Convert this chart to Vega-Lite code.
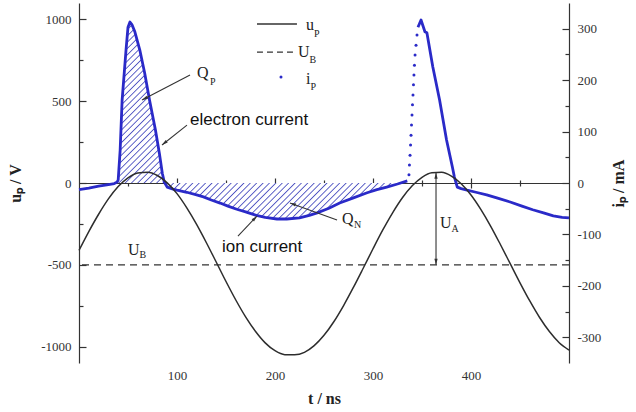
{
"$schema":"https://vega.github.io/schema/vega-lite/v6.json",
"width":490,"height":360,
"autosize":{"type":"none"},
"padding":{"left":79,"top":3,"right":67,"bottom":46},
"background":"#ffffff",
"config":{
 "view":{"stroke":null},
 "axis":{"grid":false,"labelFont":"Liberation Serif","labelFontSize":13,"labelColor":"#333333","titleFont":"Liberation Serif","titleFontSize":16,"titleFontWeight":"bold","titleColor":"#222222","domainColor":"#333333","domainWidth":1.2,"tickColor":"#333333","tickWidth":1.2,"labelOverlap":false,"labelFlush":false}
},
"datasets":{
 "up":[{"t":0,"u":-412},{"t":10,"u":-297},{"t":20,"u":-191},{"t":30,"u":-97},{"t":40,"u":-22},{"t":50,"u":31},{"t":60,"u":61},{"t":70,"u":66},{"t":80,"u":46},{"t":90,"u":1},{"t":100,"u":-65},{"t":110,"u":-152},{"t":120,"u":-253},{"t":130,"u":-365},{"t":140,"u":-483},{"t":150,"u":-602},{"t":160,"u":-715},{"t":170,"u":-818},{"t":180,"u":-906},{"t":190,"u":-977},{"t":200,"u":-1025},{"t":210,"u":-1049},{"t":220,"u":-1050},{"t":230,"u":-1035},{"t":240,"u":-994},{"t":250,"u":-931},{"t":260,"u":-848},{"t":270,"u":-749},{"t":280,"u":-638},{"t":290,"u":-521},{"t":300,"u":-402},{"t":310,"u":-287},{"t":320,"u":-182},{"t":330,"u":-90},{"t":340,"u":-17},{"t":350,"u":35},{"t":360,"u":63},{"t":370,"u":65},{"t":380,"u":42},{"t":390,"u":-5},{"t":400,"u":-73},{"t":410,"u":-161},{"t":420,"u":-263},{"t":430,"u":-376},{"t":440,"u":-493},{"t":450,"u":-610},{"t":460,"u":-721},{"t":470,"u":-822},{"t":480,"u":-908},{"t":490,"u":-976},{"t":500,"u":-1021}],
 "ip":[{"t":0,"i":-13,"seg":1},{"t":10,"i":-10,"seg":1},{"t":20,"i":-6,"seg":1},{"t":30,"i":-3,"seg":1},{"t":36,"i":-1,"seg":1},{"t":39,"i":2,"seg":1},{"t":40,"i":6,"seg":1},{"t":42,"i":64,"seg":1},{"t":44,"i":161,"seg":1},{"t":48,"i":259,"seg":1},{"t":50,"i":303,"seg":1},{"t":52,"i":313,"seg":1},{"t":54,"i":308,"seg":1},{"t":57,"i":294,"seg":1},{"t":62,"i":259,"seg":1},{"t":67,"i":214,"seg":1},{"t":72,"i":161,"seg":1},{"t":78,"i":103,"seg":1},{"t":82,"i":58,"seg":1},{"t":85,"i":19,"seg":1},{"t":87,"i":2,"seg":1},{"t":90,"i":-8,"seg":1},{"t":96,"i":-12,"seg":1},{"t":100,"i":-14,"seg":1},{"t":110,"i":-18,"seg":1},{"t":120,"i":-23,"seg":1},{"t":127,"i":-27,"seg":1},{"t":135,"i":-33,"seg":1},{"t":144,"i":-39,"seg":1},{"t":152,"i":-45,"seg":1},{"t":161,"i":-51,"seg":1},{"t":170,"i":-56,"seg":1},{"t":181,"i":-63,"seg":1},{"t":190,"i":-67,"seg":1},{"t":202,"i":-70,"seg":1},{"t":212,"i":-70,"seg":1},{"t":225,"i":-68,"seg":1},{"t":235,"i":-63,"seg":1},{"t":243,"i":-58,"seg":1},{"t":255,"i":-49,"seg":1},{"t":266,"i":-39,"seg":1},{"t":280,"i":-29,"seg":1},{"t":294,"i":-19,"seg":1},{"t":304,"i":-13,"seg":1},{"t":314,"i":-8,"seg":1},{"t":325,"i":-2,"seg":1},{"t":335,"i":4,"seg":1},
  {"t":345.9,"i":303,"seg":2},{"t":349,"i":317,"seg":2},{"t":353,"i":294,"seg":2},{"t":355,"i":292,"seg":2},{"t":361,"i":226,"seg":2},{"t":368,"i":161,"seg":2},{"t":375,"i":84,"seg":2},{"t":381,"i":31,"seg":2},{"t":383,"i":12,"seg":2},{"t":386,"i":-8,"seg":2},{"t":390,"i":-11,"seg":2},{"t":396,"i":-14,"seg":2},{"t":405,"i":-18,"seg":2},{"t":416,"i":-23,"seg":2},{"t":428,"i":-30,"seg":2},{"t":440,"i":-37,"seg":2},{"t":452,"i":-45,"seg":2},{"t":463,"i":-52,"seg":2},{"t":474,"i":-58,"seg":2},{"t":484,"i":-64,"seg":2},{"t":493,"i":-67,"seg":2},{"t":500,"i":-68,"seg":2}],
 "ipdots":[{"t":336.7,"i":16},{"t":337.2,"i":35},{"t":337.8,"i":54},{"t":338.3,"i":74},{"t":338.8,"i":93},{"t":339.3,"i":113},{"t":339.8,"i":132},{"t":340.3,"i":152},{"t":340.8,"i":171},{"t":341.3,"i":191},{"t":341.8,"i":210},{"t":342.3,"i":229},{"t":342.9,"i":249},{"t":343.9,"i":268},{"t":344.9,"i":288}],
 "arrows":[{"name":"QP","t":113.3,"u":660,"t2":64.3,"u2":507},{"name":"el","t":110.2,"u":354,"t2":84.7,"u2":232},{"name":"ion","t":162.2,"u":-324,"t2":181.6,"u2":-202},{"name":"QN","t":263.3,"u":-226,"t2":215.3,"u2":-122},{"name":"UA","t":364.3,"u":63,"t2":364.3,"u2":-500}],
 "big":[{"label":"Q","t":120.4,"u":642},{"label":"Q","t":268.4,"u":-251},{"label":"U","t":368.4,"u":-275},{"label":"U","t":50,"u":-440},{"label":"u","t":231.6,"u":935},{"label":"U","t":223.5,"u":770},{"label":"i","t":231.6,"u":605}],
 "sub":[{"label":"P","t":133.7,"u":599},{"label":"N","t":280.6,"u":-275},{"label":"A","t":380.2,"u":-299},{"label":"B","t":61.8,"u":-458},{"label":"P","t":239.8,"u":892},{"label":"B","t":235.3,"u":733},{"label":"P","t":236.1,"u":568}],
 "sans":[{"label":"electron current","t":113.3,"u":354},{"label":"ion current","t":145.9,"u":-422}],
 "leg":[{"kind":"solid","t":181.6,"t2":222.4,"u":972},{"kind":"dashed","t":181.6,"t2":220.4,"u":800}],
 "legdot":[{"t":206.1,"u":648}]
},
"resolve":{"scale":{"y":"independent"},"axis":{"x":"independent"}},
"layer":[
 {"resolve":{"axis":{"x":"independent","y":"independent"}},
  "layer":[
  {"data":{"name":"ip"},"transform":[{"filter":"datum.seg === 1 && datum.t >= 39 && datum.t <= 87"}],
   "mark":{"type":"area","opacity":1,"fill":{"gradient":"linear","x1":0,"y1":0,"x2":0.3475,"y2":1.1905,"stops":[
    {"offset":0,"color":"#ffffff"},
    {"offset":0.0182,"color":"#ffffff"},{"offset":0.0242,"color":"#4f54c2"},{"offset":0.0303,"color":"#ffffff"},
    {"offset":0.0485,"color":"#ffffff"},{"offset":0.0545,"color":"#4f54c2"},{"offset":0.0606,"color":"#ffffff"},
    {"offset":0.0788,"color":"#ffffff"},{"offset":0.0848,"color":"#4f54c2"},{"offset":0.0909,"color":"#ffffff"},
    {"offset":0.1091,"color":"#ffffff"},{"offset":0.1152,"color":"#4f54c2"},{"offset":0.1212,"color":"#ffffff"},
    {"offset":0.1394,"color":"#ffffff"},{"offset":0.1455,"color":"#4f54c2"},{"offset":0.1515,"color":"#ffffff"},
    {"offset":0.1697,"color":"#ffffff"},{"offset":0.1758,"color":"#4f54c2"},{"offset":0.1818,"color":"#ffffff"},
    {"offset":0.2000,"color":"#ffffff"},{"offset":0.2061,"color":"#4f54c2"},{"offset":0.2121,"color":"#ffffff"},
    {"offset":0.2303,"color":"#ffffff"},{"offset":0.2364,"color":"#4f54c2"},{"offset":0.2424,"color":"#ffffff"},
    {"offset":0.2606,"color":"#ffffff"},{"offset":0.2667,"color":"#4f54c2"},{"offset":0.2727,"color":"#ffffff"},
    {"offset":0.2909,"color":"#ffffff"},{"offset":0.2970,"color":"#4f54c2"},{"offset":0.3030,"color":"#ffffff"},
    {"offset":0.3212,"color":"#ffffff"},{"offset":0.3273,"color":"#4f54c2"},{"offset":0.3333,"color":"#ffffff"},
    {"offset":0.3515,"color":"#ffffff"},{"offset":0.3576,"color":"#4f54c2"},{"offset":0.3636,"color":"#ffffff"},
    {"offset":0.3818,"color":"#ffffff"},{"offset":0.3879,"color":"#4f54c2"},{"offset":0.3939,"color":"#ffffff"},
    {"offset":0.4121,"color":"#ffffff"},{"offset":0.4182,"color":"#4f54c2"},{"offset":0.4242,"color":"#ffffff"},
    {"offset":0.4424,"color":"#ffffff"},{"offset":0.4485,"color":"#4f54c2"},{"offset":0.4545,"color":"#ffffff"},
    {"offset":0.4727,"color":"#ffffff"},{"offset":0.4788,"color":"#4f54c2"},{"offset":0.4848,"color":"#ffffff"},
    {"offset":0.5030,"color":"#ffffff"},{"offset":0.5091,"color":"#4f54c2"},{"offset":0.5152,"color":"#ffffff"},
    {"offset":0.5333,"color":"#ffffff"},{"offset":0.5394,"color":"#4f54c2"},{"offset":0.5455,"color":"#ffffff"},
    {"offset":0.5636,"color":"#ffffff"},{"offset":0.5697,"color":"#4f54c2"},{"offset":0.5758,"color":"#ffffff"},
    {"offset":0.5939,"color":"#ffffff"},{"offset":0.6000,"color":"#4f54c2"},{"offset":0.6061,"color":"#ffffff"},
    {"offset":0.6242,"color":"#ffffff"},{"offset":0.6303,"color":"#4f54c2"},{"offset":0.6364,"color":"#ffffff"},
    {"offset":0.6545,"color":"#ffffff"},{"offset":0.6606,"color":"#4f54c2"},{"offset":0.6667,"color":"#ffffff"},
    {"offset":0.6848,"color":"#ffffff"},{"offset":0.6909,"color":"#4f54c2"},{"offset":0.6970,"color":"#ffffff"},
    {"offset":0.7152,"color":"#ffffff"},{"offset":0.7212,"color":"#4f54c2"},{"offset":0.7273,"color":"#ffffff"},
    {"offset":0.7455,"color":"#ffffff"},{"offset":0.7515,"color":"#4f54c2"},{"offset":0.7576,"color":"#ffffff"},
    {"offset":0.7758,"color":"#ffffff"},{"offset":0.7818,"color":"#4f54c2"},{"offset":0.7879,"color":"#ffffff"},
    {"offset":0.8061,"color":"#ffffff"},{"offset":0.8121,"color":"#4f54c2"},{"offset":0.8182,"color":"#ffffff"},
    {"offset":0.8364,"color":"#ffffff"},{"offset":0.8424,"color":"#4f54c2"},{"offset":0.8485,"color":"#ffffff"},
    {"offset":0.8667,"color":"#ffffff"},{"offset":0.8727,"color":"#4f54c2"},{"offset":0.8788,"color":"#ffffff"},
    {"offset":0.8970,"color":"#ffffff"},{"offset":0.9030,"color":"#4f54c2"},{"offset":0.9091,"color":"#ffffff"},
    {"offset":0.9273,"color":"#ffffff"},{"offset":0.9333,"color":"#4f54c2"},{"offset":0.9394,"color":"#ffffff"},
    {"offset":0.9576,"color":"#ffffff"},{"offset":0.9636,"color":"#4f54c2"},{"offset":0.9697,"color":"#ffffff"},
    {"offset":0.9879,"color":"#ffffff"},{"offset":0.9939,"color":"#4f54c2"},{"offset":1,"color":"#ffffff"}]}},
   "encoding":{"x":{"field":"t","type":"quantitative","scale":{"domain":[0,500],"nice":false},"axis":null},
    "y":{"field":"i","type":"quantitative","scale":{"domain":[-350,350],"nice":false,"zero":false},"axis":null},
    "y2":{"datum":0}}},
  {"data":{"name":"ip"},"transform":[{"filter":"datum.seg === 1 && datum.t >= 87 && datum.t <= 335"}],
   "mark":{"type":"area","opacity":1,"fill":{"gradient":"linear","x1":0,"y1":0,"x2":1.1288,"y2":0.1765,"stops":[
    {"offset":0,"color":"#ffffff"},
    {"offset":0.0136,"color":"#ffffff"},{"offset":0.0182,"color":"#4f54c2"},{"offset":0.0227,"color":"#ffffff"},
    {"offset":0.0364,"color":"#ffffff"},{"offset":0.0409,"color":"#4f54c2"},{"offset":0.0455,"color":"#ffffff"},
    {"offset":0.0591,"color":"#ffffff"},{"offset":0.0636,"color":"#4f54c2"},{"offset":0.0682,"color":"#ffffff"},
    {"offset":0.0818,"color":"#ffffff"},{"offset":0.0864,"color":"#4f54c2"},{"offset":0.0909,"color":"#ffffff"},
    {"offset":0.1045,"color":"#ffffff"},{"offset":0.1091,"color":"#4f54c2"},{"offset":0.1136,"color":"#ffffff"},
    {"offset":0.1273,"color":"#ffffff"},{"offset":0.1318,"color":"#4f54c2"},{"offset":0.1364,"color":"#ffffff"},
    {"offset":0.1500,"color":"#ffffff"},{"offset":0.1545,"color":"#4f54c2"},{"offset":0.1591,"color":"#ffffff"},
    {"offset":0.1727,"color":"#ffffff"},{"offset":0.1773,"color":"#4f54c2"},{"offset":0.1818,"color":"#ffffff"},
    {"offset":0.1955,"color":"#ffffff"},{"offset":0.2000,"color":"#4f54c2"},{"offset":0.2045,"color":"#ffffff"},
    {"offset":0.2182,"color":"#ffffff"},{"offset":0.2227,"color":"#4f54c2"},{"offset":0.2273,"color":"#ffffff"},
    {"offset":0.2409,"color":"#ffffff"},{"offset":0.2455,"color":"#4f54c2"},{"offset":0.2500,"color":"#ffffff"},
    {"offset":0.2636,"color":"#ffffff"},{"offset":0.2682,"color":"#4f54c2"},{"offset":0.2727,"color":"#ffffff"},
    {"offset":0.2864,"color":"#ffffff"},{"offset":0.2909,"color":"#4f54c2"},{"offset":0.2955,"color":"#ffffff"},
    {"offset":0.3091,"color":"#ffffff"},{"offset":0.3136,"color":"#4f54c2"},{"offset":0.3182,"color":"#ffffff"},
    {"offset":0.3318,"color":"#ffffff"},{"offset":0.3364,"color":"#4f54c2"},{"offset":0.3409,"color":"#ffffff"},
    {"offset":0.3545,"color":"#ffffff"},{"offset":0.3591,"color":"#4f54c2"},{"offset":0.3636,"color":"#ffffff"},
    {"offset":0.3773,"color":"#ffffff"},{"offset":0.3818,"color":"#4f54c2"},{"offset":0.3864,"color":"#ffffff"},
    {"offset":0.4000,"color":"#ffffff"},{"offset":0.4045,"color":"#4f54c2"},{"offset":0.4091,"color":"#ffffff"},
    {"offset":0.4227,"color":"#ffffff"},{"offset":0.4273,"color":"#4f54c2"},{"offset":0.4318,"color":"#ffffff"},
    {"offset":0.4455,"color":"#ffffff"},{"offset":0.4500,"color":"#4f54c2"},{"offset":0.4545,"color":"#ffffff"},
    {"offset":0.4682,"color":"#ffffff"},{"offset":0.4727,"color":"#4f54c2"},{"offset":0.4773,"color":"#ffffff"},
    {"offset":0.4909,"color":"#ffffff"},{"offset":0.4955,"color":"#4f54c2"},{"offset":0.5000,"color":"#ffffff"},
    {"offset":0.5136,"color":"#ffffff"},{"offset":0.5182,"color":"#4f54c2"},{"offset":0.5227,"color":"#ffffff"},
    {"offset":0.5364,"color":"#ffffff"},{"offset":0.5409,"color":"#4f54c2"},{"offset":0.5455,"color":"#ffffff"},
    {"offset":0.5591,"color":"#ffffff"},{"offset":0.5636,"color":"#4f54c2"},{"offset":0.5682,"color":"#ffffff"},
    {"offset":0.5818,"color":"#ffffff"},{"offset":0.5864,"color":"#4f54c2"},{"offset":0.5909,"color":"#ffffff"},
    {"offset":0.6045,"color":"#ffffff"},{"offset":0.6091,"color":"#4f54c2"},{"offset":0.6136,"color":"#ffffff"},
    {"offset":0.6273,"color":"#ffffff"},{"offset":0.6318,"color":"#4f54c2"},{"offset":0.6364,"color":"#ffffff"},
    {"offset":0.6500,"color":"#ffffff"},{"offset":0.6545,"color":"#4f54c2"},{"offset":0.6591,"color":"#ffffff"},
    {"offset":0.6727,"color":"#ffffff"},{"offset":0.6773,"color":"#4f54c2"},{"offset":0.6818,"color":"#ffffff"},
    {"offset":0.6955,"color":"#ffffff"},{"offset":0.7000,"color":"#4f54c2"},{"offset":0.7045,"color":"#ffffff"},
    {"offset":0.7182,"color":"#ffffff"},{"offset":0.7227,"color":"#4f54c2"},{"offset":0.7273,"color":"#ffffff"},
    {"offset":0.7409,"color":"#ffffff"},{"offset":0.7455,"color":"#4f54c2"},{"offset":0.7500,"color":"#ffffff"},
    {"offset":0.7636,"color":"#ffffff"},{"offset":0.7682,"color":"#4f54c2"},{"offset":0.7727,"color":"#ffffff"},
    {"offset":0.7864,"color":"#ffffff"},{"offset":0.7909,"color":"#4f54c2"},{"offset":0.7955,"color":"#ffffff"},
    {"offset":0.8091,"color":"#ffffff"},{"offset":0.8136,"color":"#4f54c2"},{"offset":0.8182,"color":"#ffffff"},
    {"offset":0.8318,"color":"#ffffff"},{"offset":0.8364,"color":"#4f54c2"},{"offset":0.8409,"color":"#ffffff"},
    {"offset":0.8545,"color":"#ffffff"},{"offset":0.8591,"color":"#4f54c2"},{"offset":0.8636,"color":"#ffffff"},
    {"offset":0.8773,"color":"#ffffff"},{"offset":0.8818,"color":"#4f54c2"},{"offset":0.8864,"color":"#ffffff"},
    {"offset":0.9000,"color":"#ffffff"},{"offset":0.9045,"color":"#4f54c2"},{"offset":0.9091,"color":"#ffffff"},
    {"offset":0.9227,"color":"#ffffff"},{"offset":0.9273,"color":"#4f54c2"},{"offset":0.9318,"color":"#ffffff"},
    {"offset":0.9455,"color":"#ffffff"},{"offset":0.9500,"color":"#4f54c2"},{"offset":0.9545,"color":"#ffffff"},
    {"offset":0.9682,"color":"#ffffff"},{"offset":0.9727,"color":"#4f54c2"},{"offset":0.9773,"color":"#ffffff"},
    {"offset":0.9909,"color":"#ffffff"},{"offset":0.9955,"color":"#4f54c2"},{"offset":1,"color":"#ffffff"}]}},
   "encoding":{"x":{"field":"t","type":"quantitative","scale":{"domain":[0,500],"nice":false},"axis":null},
    "y":{"field":"i","type":"quantitative","scale":{"domain":[-350,350],"nice":false,"zero":false},"axis":null},
    "y2":{"datum":0}}},
  {"data":{"name":"ipdots"},
   "mark":{"type":"point","filled":true,"color":"#2a2ac8","size":9,"opacity":1},
   "encoding":{"x":{"field":"t","type":"quantitative","scale":{"domain":[0,500],"nice":false},
     "axis":{"orient":"top","offset":-180,"values":[50,150,250,350,450],"labels":false,"domain":false,"title":null,"tickSize":3}},
    "y":{"field":"i","type":"quantitative","scale":{"domain":[-350,350],"nice":false,"zero":false},
     "axis":{"orient":"right","values":[-250,-150,-50,50,150,250],"labels":false,"domain":false,"title":null,"tickSize":-4}}}},
  {"data":{"name":"ip"},
   "mark":{"type":"line","color":"#2a2ac8","strokeWidth":2.8,"strokeJoin":"round"},
   "encoding":{"x":{"field":"t","type":"quantitative","scale":{"domain":[0,500],"nice":false},
     "axis":{"orient":"top","offset":-180,"values":[100,200,300,400],"labels":false,"domain":false,"title":null,"tickSize":5}},
    "y":{"field":"i","type":"quantitative","scale":{"domain":[-350,350],"nice":false,"zero":false},
     "axis":{"orient":"right","values":[-300,-200,-100,0,100,200,300],
      "labelExpr":"'' + datum.value",
      "tickSize":-7,"labelPadding":15,"title":"iₚ / mA","titleAngle":270,"titlePadding":26}},
    "detail":{"field":"seg"}}}
 ]},
 {"resolve":{"axis":{"x":"independent","y":"independent"}},
  "layer":[
  {"data":{"values":[{}]},
   "mark":{"type":"rule","color":"#333333","strokeWidth":1.3,"strokeDash":[7,5]},
   "encoding":{"y":{"datum":-500,"type":"quantitative","scale":{"domain":[-1100,1100],"nice":false,"zero":false},
     "axis":{"orient":"left","values":[-750,-250,250,750],"labels":false,"domain":false,"title":null,"tickSize":-4}}}},
  {"data":{"name":"up"},
   "mark":{"type":"line","color":"#2d2d2d","strokeWidth":1.5,"interpolate":"monotone"},
   "encoding":{"x":{"field":"t","type":"quantitative","scale":{"domain":[0,500],"nice":false},
     "axis":{"orient":"bottom","offset":-180,"values":[100,200,300,400],
      "labelExpr":"'' + datum.value",
      "tickSize":5,"labelPadding":181,"title":"t / ns","titlePadding":8}},
    "y":{"field":"u","type":"quantitative","scale":{"domain":[-1100,1100],"nice":false,"zero":false},
     "axis":{"orient":"left","values":[-1000,-500,0,500,1000],
      "labelExpr":"'' + datum.value",
      "tickSize":-7,"labelPadding":15,"title":"uₚ / V","titlePadding":17}}}},
  {"data":{"name":"leg"},"transform":[{"filter":"datum.kind === 'solid'"}],
   "mark":{"type":"rule","color":"#333333","strokeWidth":1.5},
   "encoding":{"x":{"field":"t","type":"quantitative","scale":{"domain":[0,500],"nice":false},
     "axis":{"orient":"bottom","offset":-180,"values":[50,150,250,350,450],"labels":false,"domain":false,"title":null,"tickSize":3}},"x2":{"field":"t2"},
    "y":{"field":"u","type":"quantitative","scale":{"domain":[-1100,1100],"nice":false,"zero":false},"axis":null}}},
  {"data":{"name":"leg"},"transform":[{"filter":"datum.kind === 'dashed'"}],
   "mark":{"type":"rule","color":"#333333","strokeWidth":1.3,"strokeDash":[6,4]},
   "encoding":{"x":{"field":"t","type":"quantitative","scale":{"domain":[0,500],"nice":false},"axis":null},"x2":{"field":"t2"},
    "y":{"field":"u","type":"quantitative","scale":{"domain":[-1100,1100],"nice":false,"zero":false},"axis":null}}},
  {"data":{"name":"legdot"},
   "mark":{"type":"point","filled":true,"color":"#2a2ac8","size":9,"opacity":1},
   "encoding":{"x":{"field":"t","type":"quantitative","scale":{"domain":[0,500],"nice":false},"axis":null},
    "y":{"field":"u","type":"quantitative","scale":{"domain":[-1100,1100],"nice":false,"zero":false},"axis":null}}},
  {"data":{"name":"arrows"},
   "mark":{"type":"rule","color":"#333333","strokeWidth":1.1},
   "encoding":{"x":{"field":"t","type":"quantitative","scale":{"domain":[0,500],"nice":false},"axis":null},"x2":{"field":"t2"},
    "y":{"field":"u","type":"quantitative","scale":{"domain":[-1100,1100],"nice":false,"zero":false},"axis":null},"y2":{"field":"u2"}}},
  {"data":{"name":"arrows"},"transform":[{"filter":"datum.name === 'QP'"}],
   "mark":{"type":"point","shape":"M0,0L0.55,2L-0.55,2Z","filled":true,"color":"#333333","opacity":1,"size":36,"angle":242.5},
   "encoding":{"x":{"field":"t2","type":"quantitative","scale":{"domain":[0,500],"nice":false},"axis":null},
    "y":{"field":"u2","type":"quantitative","scale":{"domain":[-1100,1100],"nice":false,"zero":false},"axis":null}}},
  {"data":{"name":"arrows"},"transform":[{"filter":"datum.name === 'el'"}],
   "mark":{"type":"point","shape":"M0,0L0.55,2L-0.55,2Z","filled":true,"color":"#333333","opacity":1,"size":36,"angle":231.3},
   "encoding":{"x":{"field":"t2","type":"quantitative","scale":{"domain":[0,500],"nice":false},"axis":null},
    "y":{"field":"u2","type":"quantitative","scale":{"domain":[-1100,1100],"nice":false,"zero":false},"axis":null}}},
  {"data":{"name":"arrows"},"transform":[{"filter":"datum.name === 'ion'"}],
   "mark":{"type":"point","shape":"M0,0L0.55,2L-0.55,2Z","filled":true,"color":"#333333","opacity":1,"size":36,"angle":43.5},
   "encoding":{"x":{"field":"t2","type":"quantitative","scale":{"domain":[0,500],"nice":false},"axis":null},
    "y":{"field":"u2","type":"quantitative","scale":{"domain":[-1100,1100],"nice":false,"zero":false},"axis":null}}},
  {"data":{"name":"arrows"},"transform":[{"filter":"datum.name === 'QN'"}],
   "mark":{"type":"point","shape":"M0,0L0.55,2L-0.55,2Z","filled":true,"color":"#333333","opacity":1,"size":36,"angle":290},
   "encoding":{"x":{"field":"t2","type":"quantitative","scale":{"domain":[0,500],"nice":false},"axis":null},
    "y":{"field":"u2","type":"quantitative","scale":{"domain":[-1100,1100],"nice":false,"zero":false},"axis":null}}},
  {"data":{"name":"arrows"},"transform":[{"filter":"datum.name === 'UA'"}],
   "mark":{"type":"point","shape":"M0,0L0.55,2L-0.55,2Z","filled":true,"color":"#333333","opacity":1,"size":36,"angle":180},
   "encoding":{"x":{"field":"t2","type":"quantitative","scale":{"domain":[0,500],"nice":false},"axis":null},
    "y":{"field":"u2","type":"quantitative","scale":{"domain":[-1100,1100],"nice":false,"zero":false},"axis":null}}},
  {"data":{"name":"arrows"},"transform":[{"filter":"datum.name === 'UA'"}],
   "mark":{"type":"point","shape":"M0,0L0.55,2L-0.55,2Z","filled":true,"color":"#333333","opacity":1,"size":36,"angle":0},
   "encoding":{"x":{"field":"t","type":"quantitative","scale":{"domain":[0,500],"nice":false},"axis":null},
    "y":{"field":"u","type":"quantitative","scale":{"domain":[-1100,1100],"nice":false,"zero":false},"axis":null}}},
  {"data":{"name":"big"},
   "mark":{"type":"text","font":"Liberation Serif","fontSize":16,"align":"left","baseline":"alphabetic","color":"#222222"},
   "encoding":{"x":{"field":"t","type":"quantitative","scale":{"domain":[0,500],"nice":false},"axis":null},
    "y":{"field":"u","type":"quantitative","scale":{"domain":[-1100,1100],"nice":false,"zero":false},"axis":null},
    "text":{"field":"label"}}},
  {"data":{"name":"sub"},
   "mark":{"type":"text","font":"Liberation Serif","fontSize":10,"align":"left","baseline":"alphabetic","color":"#222222"},
   "encoding":{"x":{"field":"t","type":"quantitative","scale":{"domain":[0,500],"nice":false},"axis":null},
    "y":{"field":"u","type":"quantitative","scale":{"domain":[-1100,1100],"nice":false,"zero":false},"axis":null},
    "text":{"field":"label"}}},
  {"data":{"name":"sans"},
   "mark":{"type":"text","font":"Liberation Sans","fontSize":17,"align":"left","baseline":"alphabetic","color":"#111111"},
   "encoding":{"x":{"field":"t","type":"quantitative","scale":{"domain":[0,500],"nice":false},"axis":null},
    "y":{"field":"u","type":"quantitative","scale":{"domain":[-1100,1100],"nice":false,"zero":false},"axis":null},
    "text":{"field":"label"}}}
 ]}
]
}
